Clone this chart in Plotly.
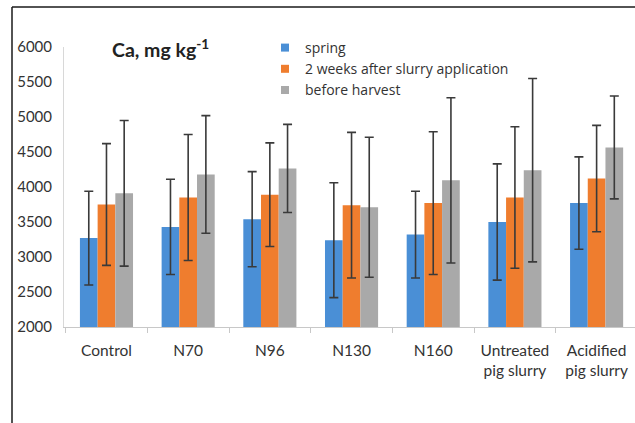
import plotly.graph_objects as go

categories = ["Control", "N70", "N96", "N130", "N160",
              "Untreated<br>pig slurry", "Acidified<br>pig slurry"]
spring = [3270, 3430, 3540, 3240, 3320, 3500, 3770]
spring_err = [670, 680, 680, 820, 620, 830, 660]
weeks2 = [3750, 3850, 3890, 3740, 3770, 3850, 4120]
weeks2_err = [870, 900, 740, 1040, 1020, 1010, 760]
harvest = [3910, 4180, 4265, 3710, 4095, 4240, 4565]
harvest_err = [1040, 840, 630, 1000, 1180, 1310, 735]
series_names = ["spring", "2 weeks after slurry application", "before harvest"]
colors = ["#4A8FD6", "#EF7D2E", "#A9A9A9"]

W, H = 635, 423
L, R, T, B = 64, 0, 47, 96
pw, ph = W - L - R, H - T - B

def px(x):
    return (x - L) / pw

def py(y):
    return (H - B - y) / ph

fig = go.Figure()
for name, vals, errs, col in zip(series_names, [spring, weeks2, harvest],
                                 [spring_err, weeks2_err, harvest_err], colors):
    fig.add_trace(go.Bar(
        x=categories, y=vals, name=name, marker=dict(color=col, line=dict(width=0)),
        error_y=dict(type="data", array=errs, visible=True, color="#3a3a3a",
                     thickness=1.6, width=4.5),
        showlegend=False, legendgroup=name,
    ))
# legend entries with small square swatches
for name, col in zip(series_names, colors):
    fig.add_trace(go.Scatter(
        x=[None], y=[None], mode="markers", name=name, legendgroup=name,
        marker=dict(symbol="square", size=8, color=col),
    ))

font = "Lato, 'Open Sans', sans-serif"
fig.update_layout(
    width=W, height=H,
    margin=dict(l=L, r=R, t=T, b=B),
    paper_bgcolor="white", plot_bgcolor="white",
    barmode="group", bargap=0.35, bargroupgap=0,
    font=dict(family=font, color="#333333"),
    showlegend=True,
    legend=dict(x=px(265), y=py(32), xanchor="left", yanchor="top",
                font=dict(size=14, color="#333333", family="'Open Sans', sans-serif"),
                bgcolor="rgba(0,0,0,0)",
                itemwidth=30, tracegroupgap=0, borderwidth=0),
    xaxis=dict(range=[-0.52, 6.47], showline=True, linecolor="#c8c8c8", linewidth=1,
               ticks="outside", tickson="boundaries", ticklen=5, tickcolor="#c8c8c8",
               tickfont=dict(size=15.5, color="#333333"), showgrid=False,
               ticklabelstandoff=9),
    yaxis=dict(range=[2000, 6000], dtick=500, showline=True, linecolor="#d8d8d8",
               linewidth=1, ticks="", showgrid=False, zeroline=False,
               tickfont=dict(size=15, color="#333333"), ticklabelstandoff=8),
    annotations=[dict(text="<b>Ca, mg kg<sup>-1</sup></b>", x=px(110), y=py(48),
                      xref="paper", yref="paper", xanchor="left", yanchor="middle",
                      showarrow=False, font=dict(size=19.5, color="#222222"))],
    shapes=[
        dict(type="line", xref="paper", yref="paper",
             x0=px(12), x1=px(635), y0=py(7), y1=py(7),
             line=dict(color="#1a1a1a", width=1.5), layer="above"),
        dict(type="line", xref="paper", yref="paper",
             x0=px(12), x1=px(12), y0=py(7), y1=py(423),
             line=dict(color="#1a1a1a", width=1.5), layer="above"),
    ],
)
fig.write_html("out.html", config={"displayModeBar": False},
               post_script="document.body.style.margin='0';document.body.style.overflow='hidden';"
                           "document.documentElement.style.overflow='hidden';")
